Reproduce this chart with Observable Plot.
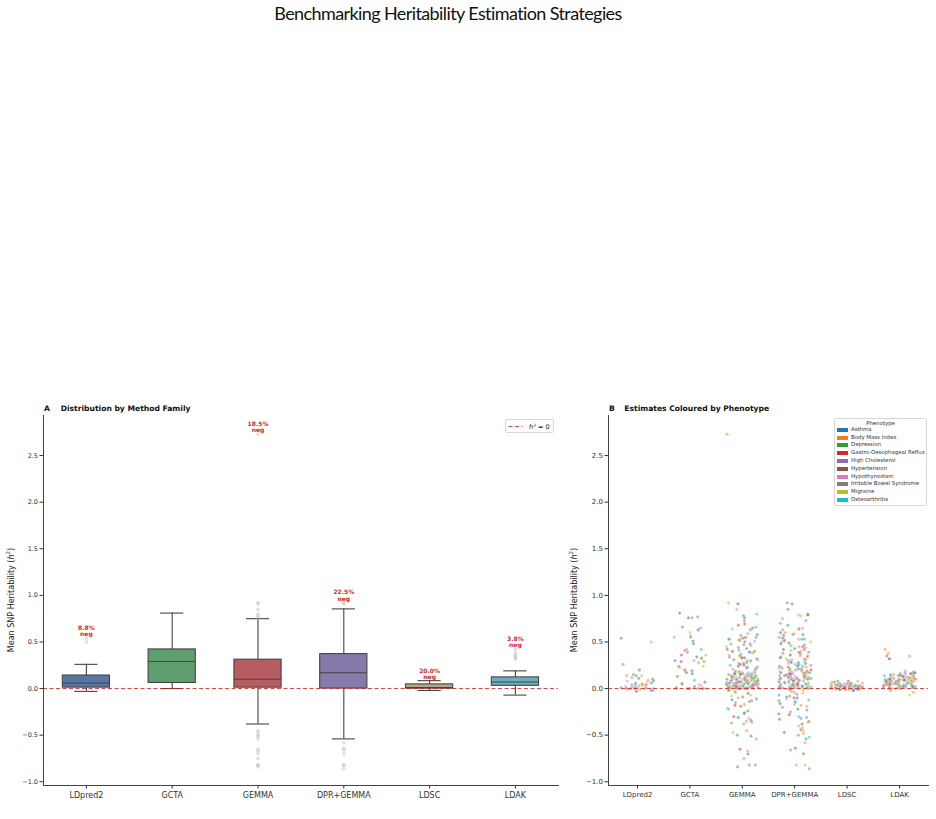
<!DOCTYPE html>
<html><head><meta charset="utf-8">
<script src="https://cdn.jsdelivr.net/npm/d3@7"></script>
<script src="https://cdn.jsdelivr.net/npm/@observablehq/plot@0.6"></script>
<style>
body{margin:0;background:#fff;}
#page{position:relative;width:936px;height:819px;overflow:hidden;font-family:"DejaVu Sans",sans-serif;color:#222;}
#title{position:absolute;left:0;width:896px;top:2px;text-align:center;font-family:"Lato",sans-serif;font-size:18px;letter-spacing:-0.6px;color:#111;}
.panel{position:absolute;top:400px;}
.leg{position:absolute;background:#fff;border:1px solid #d8d8d8;border-radius:2px;box-sizing:border-box;}
.lt{position:absolute;font-size:5.4px;color:#333;white-space:nowrap;line-height:1;}
.patch{position:absolute;width:11px;height:4px;}
</style></head><body><div id="page"><div id="title">Benchmarking Heritability Estimation Strategies</div></div>
<script>
const methods = ["LDpred2","GCTA","GEMMA","DPR+GEMMA","LDSC","LDAK"];
const boxColors = ["#4C72B0","#55A868","#C44E52","#8172B2","#B8AE7E","#64B5CD"];
// box-plot summaries
const whiskerLo = [-0.03, 0.00, -0.38, -0.54, -0.02, -0.07];
const q1 =        [ 0.01, 0.06,  0.01,  0.00,  0.00,  0.03];
const median =    [ 0.06, 0.29,  0.10,  0.17,  0.01,  0.07];
const q3 =        [ 0.14, 0.42,  0.31,  0.37,  0.045, 0.12];
const whiskerHi = [ 0.26, 0.81,  0.75,  0.855, 0.085, 0.19];
const negLabels = ["8.8%","","18.5%","22.5%","20.0%","3.8%"];

const phenotypes = ["Asthma","Body Mass Index","Depression","Gastro-Oesophageal Reflux","High Cholesterol","Hypertension","Hypothyroidism","Irritable Bowel Syndrome","Migraine","Osteoarthritis"];
const phenoColors = ["#1f77b4","#ff7f0e","#2ca02c","#d62728","#9467bd","#8c564b","#e377c2","#7f7f7f","#bcbd22","#17becf"];

// per-method estimates (panel B)
const ldpred2Vals = [0.54,0.50,0.26,0.20,0.15,0.14,0.14,0.14,0.12,0.11,0.10,0.09,0.08,0.08,0.07,0.06,0.06,0.05,0.05,0.04,0.04,0.03,0.03,0.02,0.02,0.01,0.01,0.01,0.00,0.00,0.00,0.00,0.00,0.00,-0.01,-0.01,-0.02,-0.02,-0.03,0.01];
const ldpred2Pheno = "5640728195316284095731826497";
const gctaVals = [0.81,0.77,0.76,0.76,0.66,0.65,0.63,0.60,0.56,0.55,0.55,0.51,0.48,0.42,0.42,0.41,0.39,0.36,0.36,0.34,0.33,0.32,0.30,0.30,0.29,0.29,0.28,0.24,0.24,0.23,0.20,0.19,0.18,0.17,0.16,0.13,0.09,0.07,0.06,0.05,0.04,0.03,0.02,0.01,0.00,0.00,0.00,0.00,0.00,0.00,0.00,0.00];
const gctaPheno = "5470293856602194738521067394813";
const gemmaVals = [2.73,0.92,0.91,0.85,0.80,0.78,0.76,0.73,0.70,0.69,0.68,0.66,0.65,0.64,0.63,0.59,0.58,0.57,0.55,0.55,0.54,0.54,0.53,0.53,0.52,0.51,0.50,0.48,0.47,0.46,0.45,0.43,0.42,0.41,0.40,0.40,0.39,0.38,0.37,0.36,0.35,0.35,0.34,0.33,0.33,0.32,0.31,0.31,0.30,0.29,0.28,0.27,0.26,0.25,0.24,0.23,0.22,0.22,0.21,0.20,0.20,0.19,0.18,0.18,0.17,0.17,0.16,0.16,0.15,0.15,0.15,0.14,0.14,0.14,0.13,0.13,0.13,0.12,0.12,0.12,0.11,0.11,0.11,0.10,0.10,0.10,0.10,0.09,0.09,0.09,0.09,0.08,0.08,0.08,0.08,0.07,0.07,0.07,0.07,0.06,0.06,0.06,0.06,0.05,0.05,0.05,0.05,0.04,0.04,0.04,0.04,0.03,0.03,0.03,0.03,0.02,0.02,0.02,0.02,0.02,0.01,0.01,0.01,0.01,0.01,0.00,0.00,0.00,0.00,0.00,0.00,-0.01,-0.02,-0.03,-0.05,-0.08,-0.09,-0.10,-0.12,-0.13,-0.15,-0.17,-0.19,-0.21,-0.24,-0.27,-0.30,-0.32,-0.34,-0.37,-0.38,-0.45,-0.47,-0.50,-0.51,-0.54,-0.65,-0.67,-0.70,-0.75,-0.82,-0.82,-0.84,
  0.19,0.18,0.17,0.16,0.15,0.14,0.14,0.13,0.13,0.12,0.12,0.11,0.11,0.10,0.10,0.09,0.09,0.08,0.08,0.08,0.07,0.07,0.07,0.06,0.06,0.06,0.05,0.05,0.05,0.04,0.04,0.04,0.03,0.03,0.03,0.02,0.02,0.02,0.01,0.01,0.01,0.00,0.00,0.00,0.00,0.00,0.16,0.15,0.13,0.12,0.10,0.08,0.06,0.04,0.02,0.01,0.55,0.52,0.48,0.44,0.40,0.36,0.33,0.30,0.27,0.25,0.23,0.21,-0.04,-0.07,-0.11,-0.14,-0.18,-0.22,-0.26,-0.31,-0.35,-0.36];
const gemmaPheno = "1836902471593826047158293604718259360147285930461827395014628";
const dprVals = [0.92,0.91,0.85,0.80,0.79,0.79,0.78,0.75,0.73,0.70,0.68,0.65,0.64,0.63,0.60,0.60,0.59,0.58,0.57,0.55,0.54,0.53,0.53,0.52,0.51,0.50,0.50,0.48,0.47,0.46,0.45,0.44,0.43,0.42,0.41,0.40,0.39,0.38,0.37,0.36,0.36,0.35,0.34,0.33,0.32,0.31,0.30,0.29,0.28,0.28,0.27,0.26,0.25,0.24,0.23,0.22,0.22,0.21,0.20,0.20,0.19,0.18,0.18,0.17,0.17,0.16,0.16,0.15,0.15,0.14,0.14,0.13,0.13,0.12,0.12,0.11,0.11,0.10,0.10,0.09,0.09,0.08,0.08,0.07,0.07,0.06,0.06,0.05,0.05,0.05,0.04,0.04,0.03,0.03,0.03,0.02,0.02,0.02,0.01,0.01,0.01,0.00,0.00,0.00,-0.01,-0.02,-0.04,-0.06,-0.08,-0.09,-0.10,-0.11,-0.12,-0.13,-0.15,-0.17,-0.18,-0.20,-0.22,-0.25,-0.28,-0.30,-0.32,-0.33,-0.36,-0.38,-0.40,-0.44,-0.45,-0.48,-0.50,-0.52,-0.54,-0.58,-0.64,-0.66,-0.70,-0.82,-0.82,-0.86,
  0.58,0.53,0.49,0.45,0.42,0.39,0.35,0.32,0.29,0.27,0.25,0.24,0.23,0.22,0.21,0.20,0.19,0.18,0.17,0.16,0.15,0.14,0.13,0.12,0.11,0.10,0.09,0.08,0.07,0.06,0.05,0.04,0.03,0.02,0.01,0.00,0.21,0.19,0.17,0.15,0.13,0.11,0.09,0.07,0.05,0.03,0.02,0.01,0.00,0.00,0.34,0.31,0.26,0.24,0.18,0.16,0.12,0.10,-0.03,-0.05,-0.07,-0.10,-0.14,-0.16,-0.19,-0.23,-0.27,-0.31,-0.35,-0.42,-0.47];
const dprPheno = "7520638149263751840936257180493625817403962581470369258140739";
const ldscVals = [0.08,0.08,0.08,0.07,0.07,0.06,0.06,0.05,0.05,0.05,0.05,0.04,0.04,0.04,0.04,0.04,0.03,0.03,0.03,0.03,0.03,0.03,0.02,0.02,0.02,0.02,0.02,0.02,0.01,0.01,0.01,0.01,0.01,0.01,0.00,0.00,0.00,0.00,0.00,0.00,-0.01,-0.01,-0.01,-0.01,-0.01,-0.01,-0.02,-0.02,
  0.05,0.04,0.04,0.03,0.03,0.03,0.02,0.02,0.02,0.02,0.01,0.01,0.01,0.01,0.00,0.00,0.00,-0.01,-0.01,0.03,0.04,0.02,0.06,0.01];
const ldscPheno = "2638091475362819047526390814736";
const ldakVals = [0.42,0.38,0.35,0.35,0.32,0.32,0.19,0.18,0.17,0.17,0.16,0.16,0.16,0.15,0.15,0.15,0.14,0.14,0.14,0.13,0.13,0.13,0.12,0.12,0.12,0.11,0.11,0.11,0.11,0.10,0.10,0.10,0.10,0.09,0.09,0.09,0.09,0.08,0.08,0.08,0.08,0.08,0.07,0.07,0.07,0.07,0.07,0.06,0.06,0.06,0.06,0.06,0.05,0.05,0.05,0.05,0.05,0.04,0.04,0.04,0.04,0.04,0.03,0.03,0.03,0.03,0.02,0.02,0.02,0.02,0.01,0.01,0.01,0.00,0.00,0.00,-0.02,-0.04,-0.07,
  0.17,0.16,0.15,0.14,0.13,0.12,0.11,0.10,0.10,0.09,0.09,0.08,0.08,0.07,0.07,0.06,0.06,0.05,0.05,0.04,0.04,0.03,0.03,0.02,0.02,0.01,0.01,0.00,0.12,0.10,0.08,0.06,0.04,0.02];
const ldakPheno = "1151836247905816329470851249637182509461738205";

const valsByMethod = [ldpred2Vals, gctaVals, gemmaVals, dprVals, ldscVals, ldakVals];
const phenoByMethod = [ldpred2Pheno, gctaPheno, gemmaPheno, dprPheno, ldscPheno, ldakPheno];

// deterministic strip jitter (layout only): hash of point index
function jitter(i, m) {
  const s = Math.sin(i * 12.9898 + m * 78.233) * 43758.5453;
  return ((s - Math.floor(s)) - 0.5) * 0.62;
}
// seaborn-style desaturated box fill
function desat(c) { const h = d3.hsl(c); h.s *= 0.75; return h.formatHex(); }

const points = [];
valsByMethod.forEach((vals, m) => {
  const codes = phenoByMethod[m];
  vals.forEach((v, i) => {
    const p = +codes[i % codes.length];
    points.push({m, v, xj: m + jitter(i, m), pheno: phenotypes[p], color: phenoColors[p]});
  });
});
const boxes = methods.map((name, i) => ({i, name, lo: whiskerLo[i], q1: q1[i], med: median[i], q3: q3[i], hi: whiskerHi[i], color: desat(boxColors[i])}));
const outliers = points.filter(d => d.v < whiskerLo[d.m] || d.v > whiskerHi[d.m]);
const annots = methods.map((name, i) => ({i, label: negLabels[i] ? negLabels[i] + "\nneg" : "", max: d3.max(valsByMethod[i])})).filter(d => d.label);

const yTicks = [-1, -0.5, 0, 0.5, 1, 1.5, 2, 2.5];
const fmt = d3.format(".1f");
const edge = "#444";

const plotA = Plot.plot({
  width: 575, height: 410, marginLeft: 43, marginRight: 17, marginTop: 15, marginBottom: 25,
  style: {fontFamily: "DejaVu Sans", fontSize: "8px", color: "#333", background: "transparent"},
  x: {domain: [-0.5, 5.5], range: [43, 557.8]},
  y: {domain: [-1.04, 2.93]},
  color: {type: "identity"},
  marks: [
    Plot.axisY({ticks: yTicks, tickFormat: fmt, tickSize: 3.5, tickPadding: 2, fontSize: 6.5, label: null}),
    Plot.axisX({ticks: [0,1,2,3,4,5], tickFormat: i => methods[i], tickSize: 3.5, tickPadding: 3, fontSize: 8, label: null}),
    Plot.ruleX(boxes, {x: "i", y1: "lo", y2: "q1", stroke: edge, strokeWidth: 1.1}),
    Plot.ruleX(boxes, {x: "i", y1: "q3", y2: "hi", stroke: edge, strokeWidth: 1.1}),
    Plot.ruleY(boxes, {y: "lo", x1: d => d.i - 0.135, x2: d => d.i + 0.135, stroke: edge, strokeWidth: 1.1}),
    Plot.ruleY(boxes, {y: "hi", x1: d => d.i - 0.135, x2: d => d.i + 0.135, stroke: edge, strokeWidth: 1.1}),
    Plot.rect(boxes, {x1: d => d.i - 0.275, x2: d => d.i + 0.275, y1: "q1", y2: "q3", fill: "color", stroke: edge, strokeWidth: 1.1}),
    Plot.ruleY(boxes, {y: "med", x1: d => d.i - 0.275, x2: d => d.i + 0.275, stroke: edge, strokeWidth: 1.1}),
    Plot.dot(outliers, {x: "m", y: "v", r: 1.6, fill: "#c4c4c4", fillOpacity: 0.45, stroke: "#aaa", strokeOpacity: 0.3, strokeWidth: 0.5}),
    Plot.ruleY([0], {stroke: "#d62728", strokeOpacity: 0.85, strokeDasharray: "4,2.5", strokeWidth: 1.1}),
    Plot.text(annots, {x: "i", y: "max", text: "label", lineAnchor: "bottom", dy: -2, fill: "#d62728", fontWeight: "bold", fontSize: 6, lineHeight: 1.1}),
    Plot.frame({anchor: "left", stroke: "#444"}),
    Plot.frame({anchor: "bottom", stroke: "#444"})
  ]
});

const plotB = Plot.plot({
  width: 376, height: 410, marginLeft: 48, marginRight: 8, marginTop: 15, marginBottom: 25,
  style: {fontFamily: "DejaVu Sans", fontSize: "7px", color: "#333", background: "transparent"},
  x: {domain: [-0.5, 5.5], range: [50.8, 365.2]},
  y: {domain: [-1.04, 2.93]},
  color: {type: "identity"},
  marks: [
    Plot.axisY({ticks: yTicks, tickFormat: fmt, tickSize: 3.5, tickPadding: 2, fontSize: 7, label: null}),
    Plot.axisX({ticks: [0,1,2,3,4,5], tickFormat: i => methods[i], tickSize: 3.5, tickPadding: 3, fontSize: 7, label: null}),
    Plot.dot(points, {x: "xj", y: "v", r: 1.6, fill: "color", fillOpacity: 0.55, stroke: "white", strokeWidth: 0.3}),
    Plot.ruleY([0], {stroke: "#d62728", strokeOpacity: 0.85, strokeDasharray: "4,2.5", strokeWidth: 1.1}),
    Plot.frame({anchor: "left", stroke: "#444"}),
    Plot.frame({anchor: "bottom", stroke: "#444"})
  ]
});

function decorate(svg, labelX, letter, letterX, title, titleX) {
  const s = d3.select(svg);
  const t = s.append("text").attr("transform", `translate(${labelX},200) rotate(-90)`)
    .attr("text-anchor", "middle").attr("dominant-baseline", "middle")
    .attr("font-size", 8).attr("fill", "#222").attr("font-family", "DejaVu Sans");
  t.append("tspan").text("Mean SNP Heritability (");
  t.append("tspan").attr("font-style", "italic").text("h");
  t.append("tspan").attr("font-size", 5.5).attr("dy", -3).text("2");
  t.append("tspan").attr("dy", 3).text(")");
  [[letter, letterX], [title, titleX]].forEach(([txt, x]) => {
    s.append("text").attr("x", x).attr("y", 10.5).attr("text-anchor", "start")
      .attr("font-size", 7.6).attr("font-weight", "bold").attr("fill", "#111")
      .attr("font-family", "DejaVu Sans").text(txt);
  });
}
decorate(plotA, 11, "A", 44, "Distribution by Method Family", 60.7);
decorate(plotB, 13.5, "B", 49, "Estimates Coloured by Phenotype", 64.3);

const page = document.getElementById("page");
const wa = document.createElement("div"); wa.className = "panel"; wa.style.left = "0px"; wa.appendChild(plotA); page.appendChild(wa);
const wb = document.createElement("div"); wb.className = "panel"; wb.style.left = "560px"; wb.appendChild(plotB); page.appendChild(wb);

// legend A
const la = document.createElement("div"); la.className = "leg";
Object.assign(la.style, {left: "505px", top: "419px", width: "49px", height: "14px"});
la.innerHTML = `<svg width="49" height="14" style="position:absolute;left:0;top:0"><line x1="2.5" x2="16.5" y1="6.5" y2="6.5" stroke="#d62728" stroke-opacity="0.85" stroke-width="1.1" stroke-dasharray="4,2.5"/><text x="23" y="9" font-size="6.5" font-family="DejaVu Sans" fill="#222"><tspan font-style="italic">h</tspan><tspan font-size="4.5" dy="-2.5">2</tspan><tspan dy="2.5"> = 0</tspan></text></svg>`;
page.appendChild(la);

// legend B
const lb = document.createElement("div"); lb.className = "leg";
Object.assign(lb.style, {left: "834px", top: "418px", width: "93px", height: "88px"});
const ttl = document.createElement("div"); ttl.className = "lt"; ttl.textContent = "Phenotype";
Object.assign(ttl.style, {left: "0px", width: "91px", textAlign: "center", top: "2px"});
lb.appendChild(ttl);
phenotypes.forEach((p, k) => {
  const y = 10.7 + k * 7.8;
  const pa = document.createElement("div"); pa.className = "patch";
  Object.assign(pa.style, {left: "1.5px", top: (y - 2) + "px", background: phenoColors[k]});
  const tx = document.createElement("div"); tx.className = "lt"; tx.textContent = p;
  Object.assign(tx.style, {left: "16px", top: (y - 3) + "px"});
  lb.appendChild(pa); lb.appendChild(tx);
});
page.appendChild(lb);
</script></body></html>
